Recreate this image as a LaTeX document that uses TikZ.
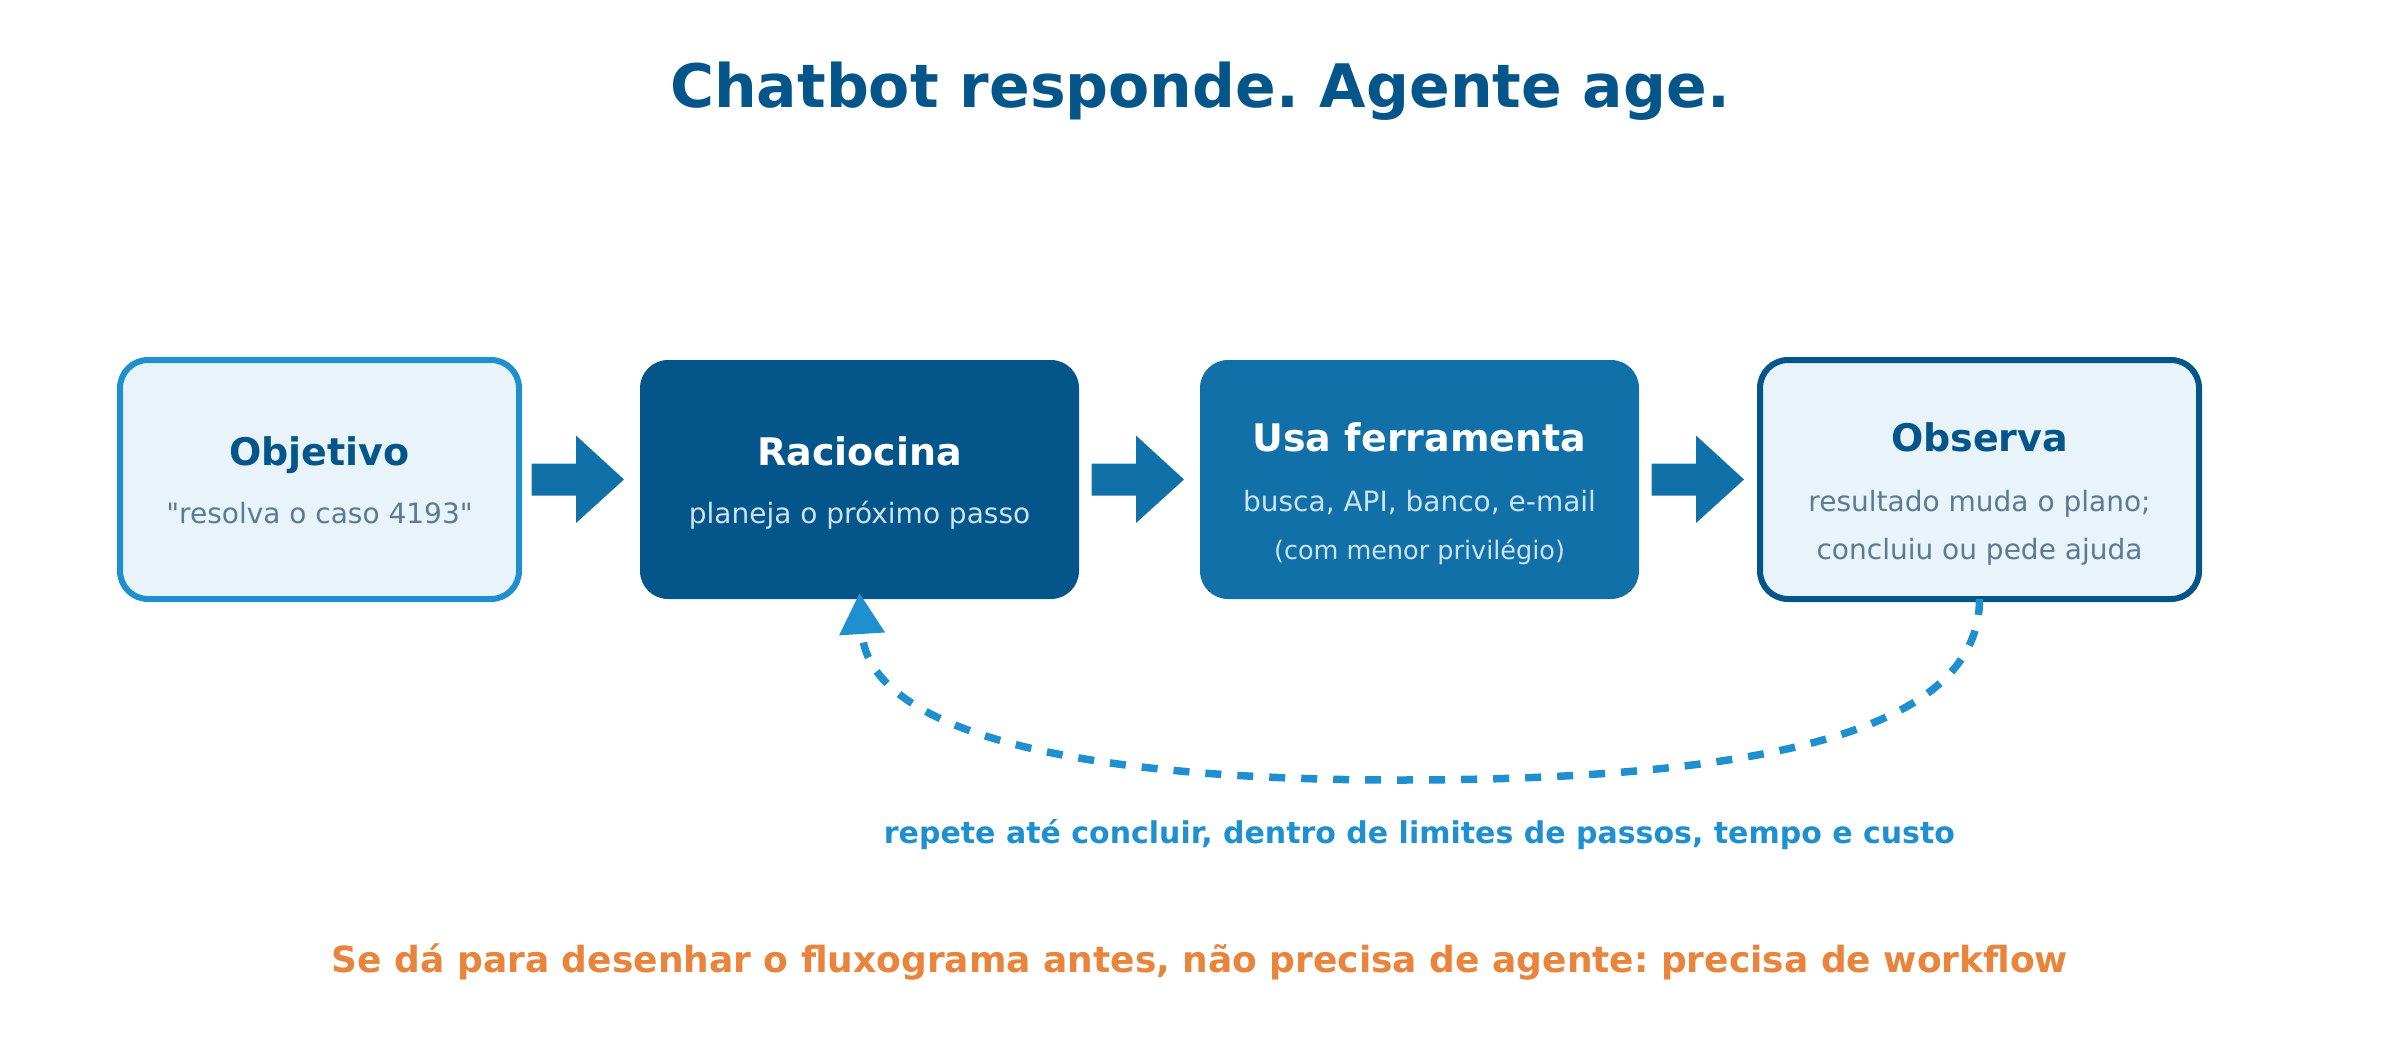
\documentclass[tikz,border=0pt]{standalone}
\usepackage{fontspec}
% a family without the TeX quote mapping, so " stays a straight quote
\newfontfamily\dejavu{DejaVu Sans}
\usetikzlibrary{calc,arrows.meta}

\definecolor{inkblue}{HTML}{04558A}
\definecolor{midblue}{HTML}{1170A8}
\definecolor{skyblue}{HTML}{1E90CF}
\definecolor{palefill}{HTML}{E8F3FA}
\definecolor{slatetext}{HTML}{5B7A93}
\definecolor{mistext}{HTML}{CDE3F2}
\definecolor{warnorange}{HTML}{E8843C}

\tikzset{
  box/.style={rectangle, rounded corners=28pt, minimum width=439pt,
    minimum height=239pt, inner sep=0pt, outer sep=0pt},
  goalbox/.style={box, minimum width=399pt, fill=palefill, draw=skyblue, line width=6pt},
  thinkbox/.style={box, fill=inkblue},
  toolbox/.style={box, fill=midblue},
  seebox/.style={box, fill=palefill, draw=inkblue, line width=6pt},
  txt/.style={anchor=base, inner sep=0pt, outer sep=0pt},
  headline/.style={txt, font=\bfseries\fontsize{38}{44}\selectfont},
  detail/.style={txt, font=\fontsize{28}{34}\selectfont},
  smalldetail/.style={txt, font=\fontsize{25.5}{30}\selectfont},
  flowarrow/.style={fill=midblue},
  loopline/.style={draw=skyblue, line width=7.5pt, dash pattern=on 16pt off 16pt,
    -{Triangle[length=41pt,width=44pt]}},
}

% block arrow running from the right side of box #1 to the left side of box #2
\newcommand\blockarrow[2]{%
  \path ($(#1.east)+(12.5,0)$) coordinate (#1-tail)
        ($(#2.west)+(-16,0)$) coordinate (#2-head);
  \fill[flowarrow] ($(#1-tail)+(0,-16)$) -- ($(#2-head)+(-48,-16)$)
    -- ($(#2-head)+(-48,-44)$) -- (#2-head) -- ($(#2-head)+(-48,43.5)$)
    -- ($(#2-head)+(-48,16)$) -- ($(#1-tail)+(0,16)$) -- cycle;
}

\begin{document}
\dejavu\frenchspacing
\begin{tikzpicture}[x=1pt,y=-1pt]
  \useasboundingbox (0,0) rectangle (2400,1040);

  % heading
  \node[txt, text=inkblue, font=\bfseries\fontsize{60}{70}\selectfont]
    (heading) at (1200,108) {Chatbot responde. Agente age.};

  % the four stages
  \node[goalbox]  (obj) at (319.5,479.5) {};
  \node[thinkbox] (rac) at (859.5,479.5) {};
  \node[toolbox]  (fer) at (1419.5,479.5) {};
  \node[seebox]   (obs) at (1979.5,479.5) {};

  \node[headline, text=inkblue] (objT) at ($(obj)+(0,-14.5)$) {Objetivo};
  \node[detail, text=slatetext] (objS) at ($(obj)+(0,43.5)$) {"resolva o caso 4193"};

  \node[headline, text=white] (racT) at ($(rac)+(0,-14.5)$) {Raciocina};
  \node[detail, text=mistext] (racS) at ($(rac)+(0,43.5)$) {planeja o próximo passo};

  \node[headline, text=white] (ferT) at ($(fer)+(0,-28.5)$) {Usa ferramenta};
  \node[detail, text=mistext] (ferS) at ($(fer)+(0,31.5)$) {busca, API, banco, e-mail};
  \node[smalldetail, text=mistext] (ferN) at ($(fer)+(0,79.5)$) {(com menor privilégio)};

  \node[headline, text=inkblue] (obsT) at ($(obs)+(0,-28.5)$) {Observa};
  \node[detail, text=slatetext] (obsS) at ($(obs)+(0,31.5)$) {resultado muda o plano;};
  \node[detail, text=slatetext] (obsN) at ($(obs)+(0,79.5)$) {concluiu ou pede ajuda};

  % forward flow
  \blockarrow{obj}{rac}
  \blockarrow{rac}{fer}
  \blockarrow{fer}{obs}

  % feedback loop, back from Observa to Raciocina
  \coordinate (loopbottom) at (1400,780);
  \coordinate (loopend) at ($(rac.south)+(0,-6)$);
  \draw[loopline] (obs.south) .. controls ($(obs.south)+(0,123)$)
      and ($(loopbottom)+(394,0)$) .. (loopbottom)
    .. controls ($(loopbottom)+(-367,0)$) and ($(loopend)+(8,127)$) .. (loopend);

  \node[txt, text=skyblue, font=\bfseries\fontsize{30}{36}\selectfont]
    (looplabel) at (1419.5,843) {repete até concluir, dentro de limites de passos, tempo e custo};

  % closing remark
  \node[txt, text=warnorange, font=\bfseries\fontsize{36}{42}\selectfont]
    (remark) at (1200,972) {Se dá para desenhar o fluxograma antes, não precisa de agente: precisa de workflow};
\end{tikzpicture}
\end{document}
